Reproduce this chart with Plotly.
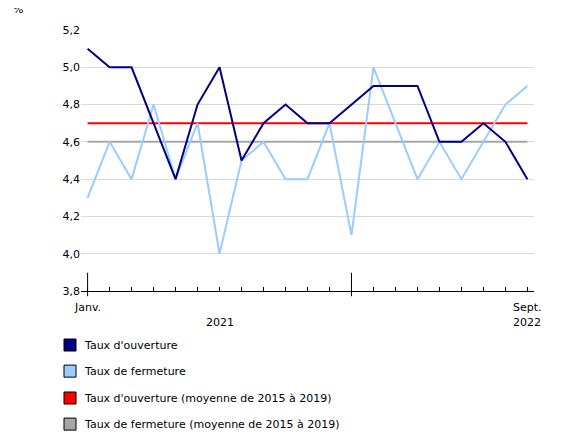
import plotly.graph_objects as go

months = list(range(21))  # Jan 2021 .. Sept 2022
opening = [5.1, 5.0, 5.0, 4.7, 4.4, 4.8, 5.0, 4.5, 4.7, 4.8, 4.7, 4.7, 4.8, 4.9, 4.9, 4.9, 4.6, 4.6, 4.7, 4.6, 4.4]
closing = [4.3, 4.6, 4.4, 4.8, 4.4, 4.7, 4.0, 4.5, 4.6, 4.4, 4.4, 4.7, 4.1, 5.0, 4.7, 4.4, 4.6, 4.4, 4.6, 4.8, 4.9]
open_avg = 4.7
close_avg = 4.6
yticks = [3.8, 4.0, 4.2, 4.4, 4.6, 4.8, 5.0, 5.2]
ytick_text = [f"{v:.1f}".replace(".", ",") for v in yticks]

legend_items = [
    ("Taux d'ouverture", "#000080"),
    ("Taux de fermeture", "#99ccff"),
    ("Taux d'ouverture (moyenne de 2015 à 2019)", "#ff0000"),
    ("Taux de fermeture (moyenne de 2015 à 2019)", "#a6a6a6"),
]

fig = go.Figure()
fig.add_trace(go.Scatter(x=months, y=[close_avg] * len(months), mode="lines",
                         line=dict(color="#a6a6a6", width=2)))
fig.add_trace(go.Scatter(x=months, y=[open_avg] * len(months), mode="lines",
                         line=dict(color="#ff0000", width=2)))
fig.add_trace(go.Scatter(x=months, y=closing, mode="lines",
                         line=dict(color="#99ccff", width=2)))
fig.add_trace(go.Scatter(x=months, y=opening, mode="lines",
                         line=dict(color="#000080", width=2)))

# year tick marks
for m in [0, 12]:
    fig.add_shape(type="line", xref="x", yref="paper", x0=m, x1=m, y0=-0.02, y1=0.07,
                  line=dict(color="black", width=1))

font = dict(family="Verdana, DejaVu Sans", size=11, color="black")
ann = [
    dict(x=0, y=-0.03, text="Janv.", xanchor="center", yanchor="top"),
    dict(x=20, y=-0.03, text="Sept.", xanchor="center", yanchor="top"),
    dict(x=6, y=-0.09, text="2021", xanchor="center", yanchor="top"),
    dict(x=20, y=-0.09, text="2022", xanchor="center", yanchor="top"),
]
for a in ann:
    fig.add_annotation(xref="x", yref="paper", showarrow=False, font=font, **a)
fig.add_annotation(xref="paper", yref="paper", x=-0.155, y=1.077, text="%",
                   showarrow=False, xanchor="left", yanchor="middle", font=font)

ys = [-0.207, -0.307, -0.410, -0.510]
for (label, color), yy in zip(legend_items, ys):
    fig.add_shape(type="rect", xref="paper", yref="paper", x0=-0.0375, x1=-0.011,
                  y0=yy - 0.023, y1=yy + 0.023, fillcolor=color, line=dict(color="black", width=1))
    fig.add_annotation(xref="paper", yref="paper", x=0.002, y=yy, text=label,
                       showarrow=False, xanchor="left", yanchor="middle", font=font)

fig.update_layout(
    width=580, height=435, showlegend=False,
    margin=dict(l=73, r=54, t=22, b=152),
    plot_bgcolor="white", paper_bgcolor="white", font=font,
    xaxis=dict(range=[-0.3, 20.3], showgrid=False, zeroline=False, showticklabels=False,
               tickmode="array", tickvals=months, ticks="inside", ticklen=4,
               tickcolor="black", showline=True, linecolor="black"),
    yaxis=dict(range=[3.8, 5.2], tickvals=yticks, ticktext=ytick_text, showgrid=True,
               gridcolor="#d9d9d9", zeroline=False, ticks="", showline=False),
)
fig.write_html("out.html")
